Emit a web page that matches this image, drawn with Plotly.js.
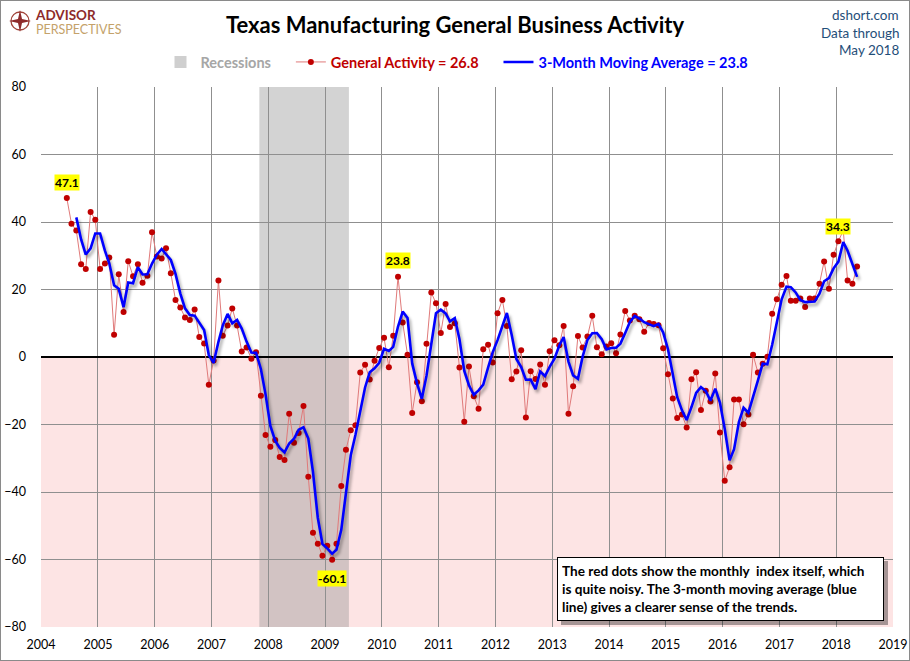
<!DOCTYPE html>
<html><head><meta charset="utf-8">
<script src="https://cdn.plot.ly/plotly-3.0.1.min.js"></script>
<style>
html,body{margin:0;padding:0;background:#fff;}
#wrap{position:relative;width:910px;height:661px;}
#chart{width:910px;height:661px;}
#frame{position:absolute;left:0;top:0;width:908px;height:659px;border:1px solid #8a8a8a;pointer-events:none;}
</style></head><body>
<div id="wrap"><div id="chart"></div><div id="frame"></div></div>
<script>
// ---- DATA ----
const startYear = 2004, startMonth = 6;   // first observation: June 2004
const generalActivity = [
  // 2004 Jun-Dec
  47.1, 39.5, 37.5, 27.5, 26.1, 43.0, 40.7,
  // 2005
  26.1, 27.7, 29.5, 6.6, 24.5, 13.3, 28.4, 23.9, 27.5, 22.0, 24.1, 37.0,
  // 2006
  29.8, 29.2, 32.2, 24.8, 16.9, 14.7, 11.7, 11.0, 14.1, 5.9, 4.0, -8.2,
  // 2007
  -1.0, 22.7, 6.3, 9.3, 14.4, 9.3, 1.6, 2.8, -0.5, 1.4, -11.5, -23.1,
  // 2008
  -26.6, -24.6, -29.6, -30.5, -16.8, -25.4, -22.5, -14.5, -35.5, -52.1, -55.3, -58.9,
  // 2009
  -55.9, -60.1, -55.3, -38.2, -27.5, -21.7, -20.2, -4.6, -2.3, -6.7, -1.1, 2.7,
  // 2010
  5.7, -3.0, 6.3, 23.8, 10.2, 0.7, -16.6, -7.5, -13.1, 3.9, 19.1, 15.9,
  // 2011
  7.1, 15.7, 8.9, 10.0, -3.1, -19.2, -2.8, -11.6, -15.3, 2.3, 3.6, -1.6,
  // 2012
  13.0, 16.9, 9.2, -6.6, -4.3, 2.0, -17.9, -4.2, -6.5, -2.2, -8.2, 1.7,
  // 2013
  5.0, 3.5, 9.2, -16.8, -8.7, 6.2, 2.8, 6.1, 12.2, 2.9, 0.8, 3.1,
  // 2014
  4.1, 1.1, 6.7, 13.6, 10.8, 12.2, 11.2, 7.5, 10.1, 9.8, 9.4, 2.6,
  // 2015
  -5.1, -12.3, -18.1, -17.0, -20.9, -6.6, -4.5, -15.7, -10.0, -13.2, -4.9, -22.4,
  // 2016
  -36.7, -32.7, -12.6, -12.6, -19.9, -17.0, 0.7, -4.6, -2.0, 0.1, 12.8, 17.1,
  // 2017
  21.4, 24.0, 16.7, 16.7, 17.3, 14.8, 17.3, 17.3, 21.7, 28.3, 20.2, 30.3,
  // 2018 Jan-May
  34.3, 37.5, 22.7, 21.7, 26.8
];
const recessionStart = ['2007-11-05'];
const recessionEnd = ['2009-06-03'];
const yTicks = [-80, -60, -40, -20, 0, 20, 40, 60, 80];
const labelPoints = [
  {date: '2004-06-15', value: 47.1, text: '47.1', dy: 16},
  {date: '2010-04-15', value: 23.8, text: '23.8', dy: 16},
  {date: '2009-02-15', value: -60.1, text: '-60.1', dy: -19},
  {date: '2018-01-15', value: 34.3, text: '34.3', dy: 15}
];
const latestGA = '26.8', latestMA = '23.8';

// ---- DERIVED ----
const dates = generalActivity.map((v, i) => {
  const t = (startMonth - 1) + i;
  const y = startYear + Math.floor(t / 12);
  const m = (t % 12) + 1;
  return y + '-' + String(m).padStart(2, '0') + '-15';
});
const movingAvg = generalActivity.map((v, i) => i < 2 ? null :
  (generalActivity[i] + generalActivity[i-1] + generalActivity[i-2]) / 3);

// ---- LAYOUT HELPERS (pixel -> paper) ----
const L = 41, R = 893, T = 87, B = 627;
const px = p => (p - L) / (R - L);
const py = p => (B - p) / (B - T);
const FONT = 'Lato, "Open Sans", sans-serif';
const SP = '&nbsp;&nbsp;&nbsp;&nbsp;';

const traces = [
  {type: 'bar', x: ['2000-01-15'], y: [0], name: '<span style="color:#a6a6a6"><b>Recessions</b></span>' + SP,
   marker: {color: '#cfcfcf'}, hoverinfo: 'skip'},
  {type: 'scatter', mode: 'lines+markers', x: dates, y: generalActivity,
   name: '<span style="color:#c00000"><b>General Activity = ' + latestGA + '</b></span>' + SP,
   line: {color: '#e07a7a', width: 1},
   marker: {color: '#c00000', size: 6}, hoverinfo: 'skip'},
  {type: 'scatter', mode: 'lines', x: dates, y: movingAvg,
   name: '<span style="color:#0000ff"><b>3-Month Moving Average = ' + latestMA + '</b></span>',
   line: {color: '#0000ff', width: 2.6}, hoverinfo: 'skip'}
];

const shapes = [
  {type: 'rect', xref: 'paper', yref: 'y', x0: 0, x1: 1, y0: -80, y1: 0,
   fillcolor: '#fde4e4', line: {width: 0}, layer: 'below'},
  {type: 'rect', xref: 'x', yref: 'paper', x0: recessionStart[0], x1: recessionEnd[0], y0: 0, y1: 1,
   fillcolor: 'rgba(150,150,150,0.42)', line: {width: 0}, layer: 'below'},
  // text box shadow
  {type: 'rect', xref: 'paper', yref: 'paper', x0: px(561), x1: px(888), y0: py(625), y1: py(561),
   fillcolor: 'rgba(0,0,0,0.35)', line: {width: 0}, layer: 'above'},
  // logo compass
  {type: 'circle', xref: 'paper', yref: 'paper', x0: px(11), x1: px(29), y0: py(30), y1: py(12),
   line: {color: '#a0453a', width: 1.3}},
  {type: 'path', xref: 'paper', yref: 'paper',
   path: 'M' + px(20) + ',' + py(10) + ' L' + px(22) + ',' + py(19) + ' L' + px(31) + ',' + py(21) +
         ' L' + px(22) + ',' + py(23) + ' L' + px(20) + ',' + py(32) + ' L' + px(18) + ',' + py(23) +
         ' L' + px(9) + ',' + py(21) + ' L' + px(18) + ',' + py(19) + ' Z',
   fillcolor: '#8e2a2a', line: {width: 0}}
];

const annotations = labelPoints.map(p => ({
  x: p.date, y: p.value, xref: 'x', yref: 'y', text: '<b>' + p.text + '</b>', showarrow: false,
  yshift: p.dy, bgcolor: '#ffff00', borderpad: 0, font: {family: FONT, size: 12, color: '#000'}
}));
annotations.push(
  {xref: 'paper', yref: 'paper', x: px(884), y: py(621), xanchor: 'right', yanchor: 'bottom',
   text: '<b>The red dots show the monthly  index itself, which<br>is quite noisy. The 3-month moving average (blue<br>line) gives a clearer sense of the trends.</b>',
   showarrow: false, align: 'left', bgcolor: '#ffffff', bordercolor: '#000000', borderwidth: 1,
   borderpad: 4, width: 317, height: 54, font: {family: FONT, size: 13.6, color: '#000'}},
  {xref: 'paper', yref: 'paper', x: px(901), y: py(15), xanchor: 'right', yanchor: 'middle',
   text: 'dshort.com', showarrow: false, font: {family: FONT, size: 13.5, color: '#1f4e79'}},
  {xref: 'paper', yref: 'paper', x: px(901), y: py(33), xanchor: 'right', yanchor: 'middle',
   text: 'Data through', showarrow: false, font: {family: FONT, size: 13.5, color: '#1f4e79'}},
  {xref: 'paper', yref: 'paper', x: px(901), y: py(50), xanchor: 'right', yanchor: 'middle',
   text: 'May 2018', showarrow: false, font: {family: FONT, size: 13.5, color: '#1f4e79'}},
  {xref: 'paper', yref: 'paper', x: px(33), y: py(22), xanchor: 'left', yanchor: 'middle',
   text: '<span style="color:#8e2a2a;font-size:13.5px"><b>ADVISOR</b></span><br><span style="color:#c4a26a;font-size:12.5px">PERSPECTIVES</span>',
   showarrow: false, align: 'left', font: {family: FONT, size: 10.5, color: '#8e2a2a'}}
);

const layout = {
  width: 910, height: 661,
  margin: {l: L, r: 910 - R, t: T, b: 661 - B, pad: 0},
  paper_bgcolor: '#ffffff', plot_bgcolor: 'rgba(0,0,0,0)',
  font: {family: FONT, color: '#000'},
  title: {text: '<b>Texas Manufacturing General Business Activity</b>', x: 0.5, xanchor: 'center',
          y: 1 - 25 / 661, yref: 'container', yanchor: 'middle',
          font: {family: FONT, size: 22, color: '#000'}},
  showlegend: true,
  legend: {orientation: 'h', x: px(457), xanchor: 'center', y: py(62), yanchor: 'middle',
           font: {family: FONT, size: 14.5}, bgcolor: 'rgba(0,0,0,0)', itemwidth: 30, traceorder: 'normal'},
  xaxis: {type: 'date', range: ['2004-01-01', '2019-01-01'], tick0: '2004-01-01', dtick: 'M12',
          tickformat: '%Y', showgrid: true, gridcolor: '#8f8f8f', gridwidth: 1, zeroline: false,
          showline: false, ticks: '', ticklabelstandoff: 8, tickfont: {family: FONT, size: 12.5, color: '#000'},
          fixedrange: true},
  yaxis: {range: [-80, 80], tickvals: yTicks, showgrid: true, gridcolor: '#8f8f8f', gridwidth: 1,
          zeroline: true, zerolinecolor: '#000', zerolinewidth: 2, showline: false, ticks: '',
          ticklabelstandoff: 14, tickfont: {family: FONT, size: 12.5, color: '#000'}, fixedrange: true},
  shapes: shapes,
  annotations: annotations,
  hovermode: false
};

Plotly.newPlot('chart', traces, layout, {displayModeBar: false, staticPlot: true}).then(() => {
  const tr = document.querySelectorAll('.scatterlayer .trace');
  if (tr.length > 1) {
    tr[1].querySelectorAll('path.js-line').forEach(p =>
      p.style.filter = 'drop-shadow(2px 3px 1.5px rgba(0,0,0,0.35))');
  }
});
</script>
</body></html>
